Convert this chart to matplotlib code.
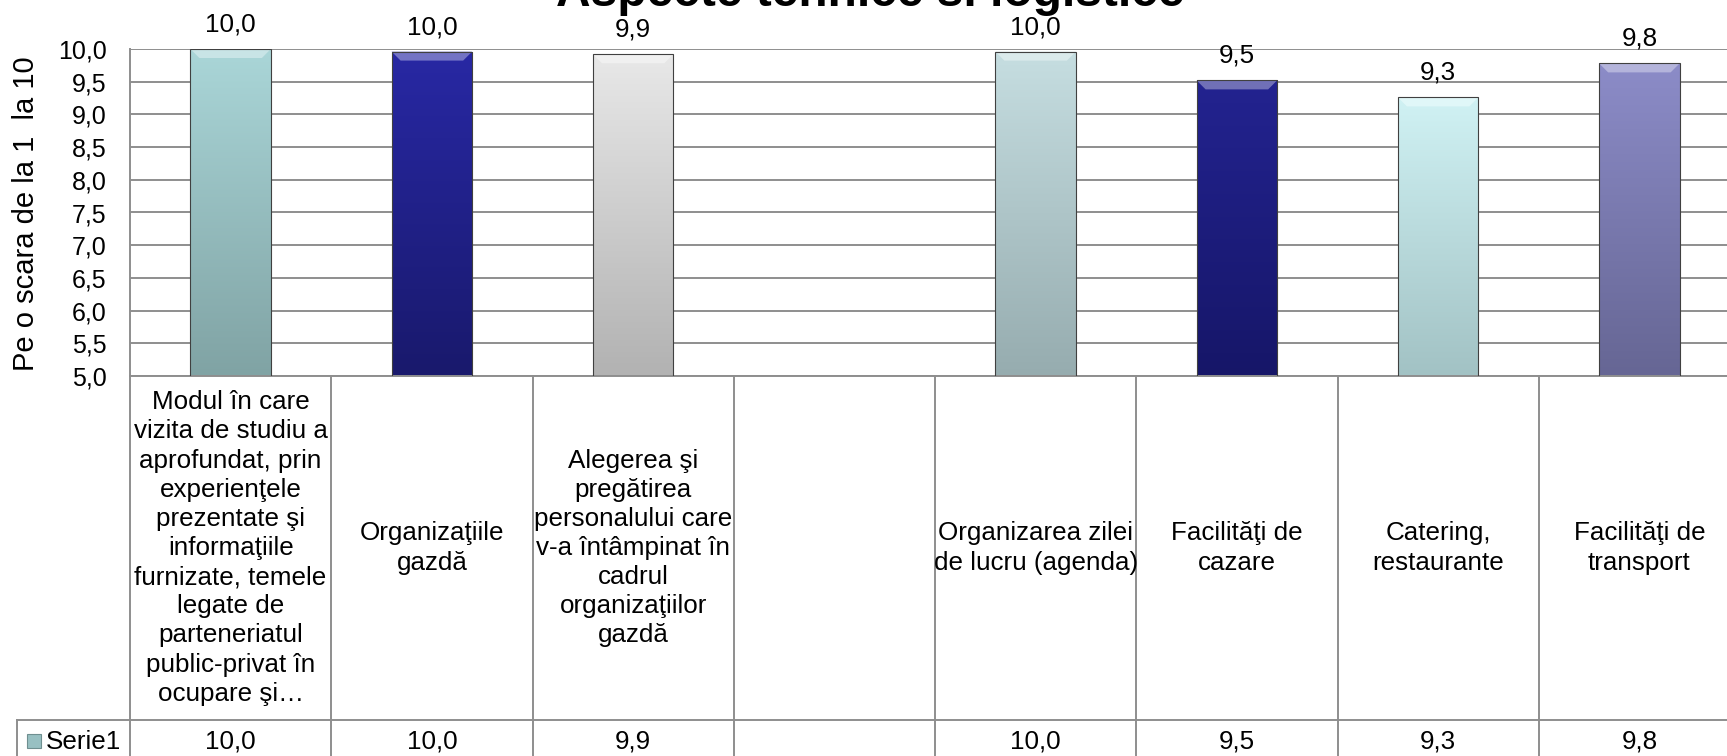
import numpy as np
import matplotlib
matplotlib.use("Agg")
import matplotlib.pyplot as plt
import matplotlib.transforms as mtransforms
from matplotlib.colors import LinearSegmentedColormap, to_rgb
from matplotlib.patches import Rectangle, Polygon

plt.rcParams['font.family'] = ['Liberation Sans', 'DejaVu Sans']

# data
categories = [
    "Modul în care\nvizita de studiu a\naprofundat, prin\nexperienţele\nprezentate şi\ninformaţiile\nfurnizate, temele\nlegate de\nparteneriatul\npublic-privat în\nocupare şi…",
    "Organizaţiile\ngazdă",
    "Alegerea şi\npregătirea\npersonalului care\nv-a întâmpinat în\ncadrul\norganizaţiilor\ngazdă",
    "",
    "Organizarea zilei\nde lucru (agenda)",
    "Facilităţi de\ncazare",
    "Catering,\nrestaurante",
    "Facilităţi de\ntransport",
]
values = [10.0, 9.96, 9.92, np.nan, 9.96, 9.52, 9.26, 9.78]
series_name = "Serie1"
title = "Aspecte tehnice si logistice"
ylabel = "Pe o scara de la 1  la 10"

# gradient colours (top, bottom) per bar, Excel-like bevel look
bar_colors = [
    ("#aad6d8", "#80a3a4"),
    ("#2828a4", "#19196c"),
    ("#e8e8e8", "#b2b2b2"),
    ("#cccccc", "#999999"),
    ("#c6dee1", "#96acaf"),
    ("#232390", "#161668"),
    ("#d0f2f4", "#a2c2c4"),
    ("#8c8cc8", "#666694"),
]


def fmt(v):
    return f"{v:.1f}".replace(".", ",")


def lighten(c, f):
    r, g, b = to_rgb(c)
    return (r + (1 - r) * f, g + (1 - g) * f, b + (1 - b) * f)


W, H = 1727, 756
fig = plt.figure(figsize=(W / 100, H / 100), dpi=100)
ax_left, ax_right, ax_top, ax_bot = 130, 1740, 49, 376
ax = fig.add_axes([ax_left / W, 1 - ax_bot / H, (ax_right - ax_left) / W, (ax_bot - ax_top) / H])

n = len(categories)
x = np.arange(n)
bars = ax.bar(x, values, width=0.40, bottom=0, color="none", edgecolor="#404040",
              linewidth=0.8, zorder=3)

ax.set_xlim(-0.5, n - 0.5)
ax.set_ylim(5.0, 10.0)
yt = np.arange(5.0, 10.01, 0.5)
ax.set_yticks(yt)
ax.set_yticklabels([fmt(v) for v in yt], fontsize=18)
ax.tick_params(axis="y", length=0, pad=17)
ax.set_xticks([])
ax.yaxis.grid(True, color="#8e8e8e", linewidth=1.4, zorder=0)
ax.set_axisbelow(True)
for s in ["top", "right", "bottom"]:
    ax.spines[s].set_visible(False)
ax.spines["left"].set_color("#8e8e8e")
ax.spines["left"].set_linewidth(1.4)

# size of one pixel in data units, for the bevel
dx = n / (ax_right - ax_left)
dy = 5.0 / (ax_bot - ax_top)

# gradient fill clipped to each bar
grad = np.linspace(0, 1, 256).reshape(-1, 1)
for rect, v, (ctop, cbot) in zip(bars, values, bar_colors):
    if np.isnan(v):
        continue
    cmap = LinearSegmentedColormap.from_list("g", [ctop, cbot])
    x0, w = rect.get_x(), rect.get_width()
    im = ax.imshow(grad, cmap=cmap, aspect="auto", extent=(x0, x0 + w, 5.0, v),
                   origin="upper", zorder=2)
    im.set_clip_path(rect)
    bevel = Polygon([(x0, v), (x0 + w, v), (x0 + w - 9 * dx, v - 9 * dy), (x0 + 9 * dx, v - 9 * dy)],
                    closed=True, facecolor=lighten(ctop, 0.35), edgecolor="none", zorder=2.5)
    ax.add_patch(bevel)
    ax.annotate(fmt(v), (x0 + w / 2, v), xytext=(0, 9),
                textcoords="offset points", ha="center", va="bottom", fontsize=18.7,
                annotation_clip=False)
ax.set_xlim(-0.5, n - 0.5)
ax.set_ylim(5.0, 10.0)

fig.text(26 / W, 1 - 214 / H, ylabel, rotation=90, ha="center", va="center", fontsize=21)

fig.text(870 / W, 1 - 6 / H, title, ha="center", va="baseline", fontsize=34.5,
         fontweight="bold")

# data table under the plot
trans = mtransforms.blended_transform_factory(ax.transData, ax.transAxes)
ph = ax_bot - ax_top
row1 = -(720 - ax_bot) / ph
row2 = -(800 - ax_bot) / ph
line_kw = dict(color="#8e8e8e", linewidth=1.4, clip_on=False, transform=trans)
for i in range(n + 1):
    ax.plot([i - 0.5, i - 0.5], [0, row2], **line_kw)
ax.plot([-0.5, n - 0.5], [0, 0], **line_kw)
leg_x = -0.5 - (ax_left - 17) * dx
ax.plot([leg_x, n - 0.5], [row1, row1], **line_kw)
ax.plot([leg_x, leg_x], [row1, row2], **line_kw)

for i, cat in enumerate(categories):
    ax.text(i, row1 / 2, cat, transform=trans, ha="center", va="center",
            fontsize=18.7, linespacing=1.27, clip_on=False)
    v = values[i]
    if not np.isnan(v):
        ax.text(i, -(742 - ax_bot) / ph, fmt(v), transform=trans,
                ha="center", va="center", fontsize=18.7, clip_on=False)

# legend key in the table
key = Rectangle((27 / W, 1 - 748 / H), 14 / W, 14 / H, transform=fig.transFigure,
                facecolor="#98c0c2", edgecolor="#6f8f90", linewidth=0.8)
fig.add_artist(key)
fig.text(46 / W, 1 - 742 / H, series_name, ha="left", va="center", fontsize=18.7)

fig.savefig("out.png", dpi=100)
